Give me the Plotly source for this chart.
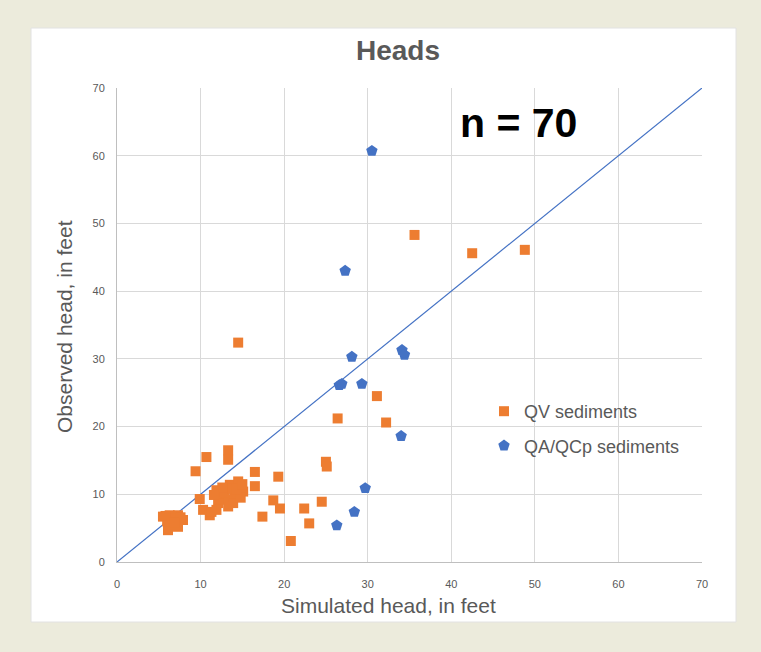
import plotly.graph_objects as go

# QV sediments (simulated, observed)
qv_sim = [35.6, 42.5, 48.8, 14.5, 31.1, 26.4, 32.2, 25.0, 25.1, 16.5, 16.5, 19.3,
          10.7, 13.3, 13.3, 9.4, 18.7, 19.5, 17.4, 22.4, 24.5, 23.0, 20.8,
          11.9, 12.5, 13.5, 14.5, 15.1, 14.1, 13.1, 13.9, 12.1, 10.3, 11.1, 11.9,
          12.9, 14.8, 9.9, 11.3, 13.8, 12.6, 14.3, 11.6, 15.0, 13.3,
          5.5, 6.3, 7.3, 7.9, 6.7, 6.1, 7.3, 6.0, 7.0, 6.6, 7.6, 5.8, 6.9]
qv_obs = [48.3, 45.6, 46.1, 32.4, 24.5, 21.2, 20.6, 14.8, 14.1, 13.3, 11.2, 12.6,
          15.5, 16.5, 15.1, 13.4, 9.1, 7.9, 6.7, 7.9, 8.9, 5.7, 3.1,
          10.6, 9.6, 11.4, 11.9, 10.4, 9.9, 9.2, 8.7, 8.7, 7.7, 6.9, 7.7,
          10.3, 9.5, 9.3, 7.4, 10.8, 11.0, 10.7, 9.9, 11.5, 8.2,
          6.7, 6.9, 6.9, 6.2, 5.7, 4.7, 5.2, 6.0, 6.3, 6.4, 6.6, 6.8, 5.9]

# QA/QCp sediments
qa_sim = [30.5, 27.3, 28.1, 26.6, 26.9, 29.3, 34.1, 34.4, 34.0, 29.7, 28.4, 26.3]
qa_obs = [60.7, 43.0, 30.3, 26.1, 26.3, 26.3, 31.3, 30.6, 18.6, 10.9, 7.4, 5.4]

line_xy = [0, 70]
ticks = [0, 10, 20, 30, 40, 50, 60, 70]

ORANGE = "#ed7d31"
BLUE = "#4472c4"
GRAY = "#595959"
BEIGE = "#ecebdc"
FONT = "Liberation Sans Narrow, Liberation Sans, Arial"

fig = go.Figure()
fig.add_trace(go.Scatter(x=line_xy, y=line_xy, mode="lines",
                         line=dict(color=BLUE, width=1.2), showlegend=False,
                         hoverinfo="skip"))
fig.add_trace(go.Scatter(x=qv_sim, y=qv_obs, mode="markers", name="QV sediments",
                         legendgroup="qv",
                         marker=dict(symbol="square", size=10, color=ORANGE)))
fig.add_trace(go.Scatter(x=qa_sim, y=qa_obs, mode="markers", name="QA/QCp sediments",
                         legendgroup="qa",
                         marker=dict(symbol="pentagon", size=12, color=BLUE)))

L, R, T, B = 117, 59, 88, 90
W, H = 761, 652
pw, ph = W - L - R, H - T - B

def px(xp):
    return (xp - L) / pw

def py(yp):
    return (H - B - yp) / ph

fig.update_layout(
    width=W, height=H,
    margin=dict(l=L, r=R, t=T, b=B),
    paper_bgcolor=BEIGE,
    plot_bgcolor="white",
    font=dict(family=FONT, color=GRAY),
    showlegend=True,
    legend=dict(x=px(484), y=py(393), xanchor="left", yanchor="top",
                bgcolor="rgba(0,0,0,0)", font=dict(size=18, color=GRAY),
                traceorder="grouped", tracegroupgap=8, itemwidth=30),
    xaxis=dict(range=[0, 70], tickvals=ticks, showgrid=True, gridcolor="#d9d9d9",
               gridwidth=1, zeroline=False, showline=True, linecolor="#bfbfbf",
               ticks="", ticklabelstandoff=12,
               tickfont=dict(size=11, color=GRAY), fixedrange=True),
    yaxis=dict(range=[0, 70], tickvals=ticks, showgrid=True, gridcolor="#d9d9d9",
               gridwidth=1, zeroline=False, showline=True, linecolor="#bfbfbf",
               ticks="", ticklabelstandoff=9,
               tickfont=dict(size=11, color=GRAY), fixedrange=True),
    shapes=[
        dict(type="rect", xref="paper", yref="paper",
             x0=px(31), x1=px(736), y0=py(622), y1=py(28),
             fillcolor="white", line=dict(color="#e2e2e2", width=1), layer="below"),
    ],
    annotations=[
        dict(text="<b>Heads</b>", xref="paper", yref="paper", x=px(398), y=py(51),
             xanchor="center", yanchor="middle", showarrow=False,
             font=dict(size=28, color=GRAY, family=FONT)),
        dict(text="<b>n = 70</b>", xref="paper", yref="paper", x=px(458), y=py(123),
             xanchor="left", yanchor="middle", showarrow=False,
             font=dict(size=41, color="black", family="Liberation Sans, Arial")),
        dict(text="Simulated head, in feet", xref="paper", yref="paper", x=px(388), y=py(605),
             xanchor="center", yanchor="middle", showarrow=False,
             font=dict(size=21, color=GRAY, family=FONT)),
        dict(text="Observed head, in feet", xref="paper", yref="paper", x=px(64), y=py(327),
             xanchor="center", yanchor="middle", showarrow=False, textangle=-90,
             font=dict(size=21, color=GRAY, family=FONT)),
    ],
)

fig.write_html(
    "out.html",
    config={"displayModeBar": False},
    post_script="document.body.style.margin='0';document.body.style.background='%s';" % BEIGE,
)
